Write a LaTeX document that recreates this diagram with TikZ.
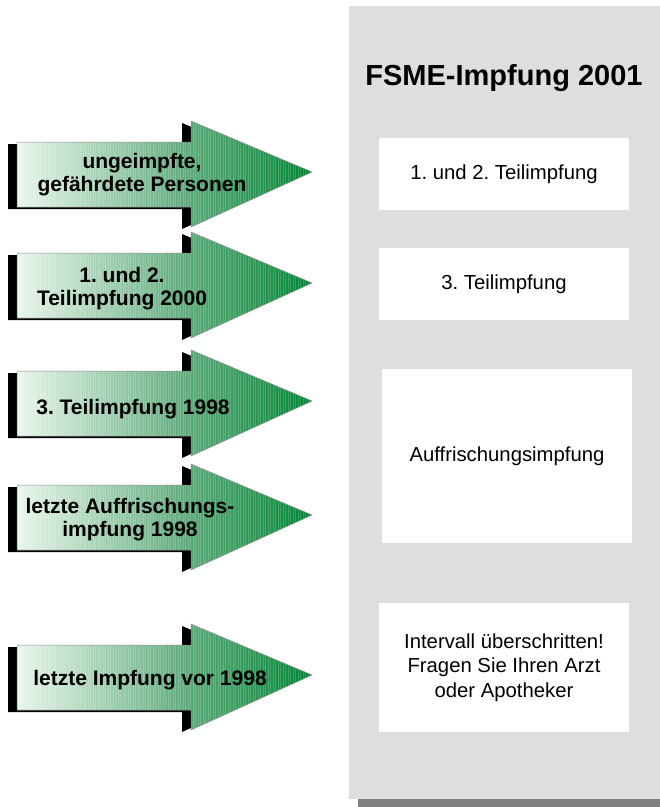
\documentclass[tikz,border=0pt]{standalone}
\usepackage{fontspec}
\setmainfont{Liberation Sans}
\definecolor{arrowL}{RGB}{234,246,236}
\definecolor{arrowM}{RGB}{92,170,122}
\definecolor{arrowR}{RGB}{0,134,52}
\definecolor{panelgray}{RGB}{222,222,222}
\definecolor{shadowgray}{RGB}{128,128,128}
\pgfdeclarehorizontalshading{arrowshade}{100bp}{color(0bp)=(arrowL); color(25bp)=(arrowL); color(54bp)=(arrowM); color(75bp)=(arrowR); color(100bp)=(arrowR)}
\tikzset{
  arrowpath/.style={insert path={(17,-30) -- (191,-30) -- (191,-51) -- (312,0) -- (191,55) -- (191,35) -- (17,35) -- cycle}},
  arrowtext/.style={font=\bfseries\fontsize{21}{23}\selectfont, align=center, inner sep=0pt},
  infobox/.style={fill=white, minimum width=250pt, inner sep=0pt, align=center, font=\fontsize{20.3}{24.5}\selectfont},
}
\newcommand\fsmeArrow[1]{%
  \begin{scope}[shift={(0,#1)}]
    \begin{scope}[shift={(-9,2)}]
      \fill[black, arrowpath];
    \end{scope}
    \shade[shading=arrowshade, arrowpath];
    \begin{scope}
      \clip[arrowpath];
      \foreach \x in {18,20.5,...,312} \draw[white, opacity=.18, line width=.8pt] (\x,-60) -- (\x,60);
    \end{scope}
    \draw[black!45, line width=.5pt, arrowpath];
  \end{scope}}
\begin{document}
\frenchspacing
\begin{tikzpicture}[x=1pt,y=-1pt]
\useasboundingbox (0,0) rectangle (660,807);
% panel with shadow
\fill[shadowgray] (358,20) rectangle (660,807);
\fill[panelgray] (349,6) rectangle (660,799);
\node[font=\bfseries\fontsize{29}{32}\selectfont, inner sep=0pt] (title) at (504,78) {FSME-Impfung 2001};
\node[infobox, minimum height=72pt] (b1) at (504,174) {1. und 2. Teilimpfung};
\node[infobox, minimum height=72pt] (b2) at (504,284) {3. Teilimpfung};
\node[infobox, minimum height=174pt] (b3) at (507,456) {Auffrischungsimpfung};
\node[infobox, minimum height=129pt] (b4) at (504,667.5) {Intervall überschritten!\\Fragen Sie Ihren Arzt\\oder Apotheker};
% arrows
\fsmeArrow{172}
\fsmeArrow{283}
\fsmeArrow{401}
\fsmeArrow{515}
\fsmeArrow{675}
\node[arrowtext] (a1) at (142,175) {ungeimpfte,\\gefährdete Personen};
\node[arrowtext] (a2) at (122,289) {1. und 2.\\Teilimpfung 2000};
\node[arrowtext] (a3) at (133,409) {3. Teilimpfung 1998};
\node[arrowtext] (a4) at (130,520) {letzte Auffrischungs-\\impfung 1998};
\node[arrowtext] (a5) at (150,680) {letzte Impfung vor 1998};
\end{tikzpicture}
\end{document}
